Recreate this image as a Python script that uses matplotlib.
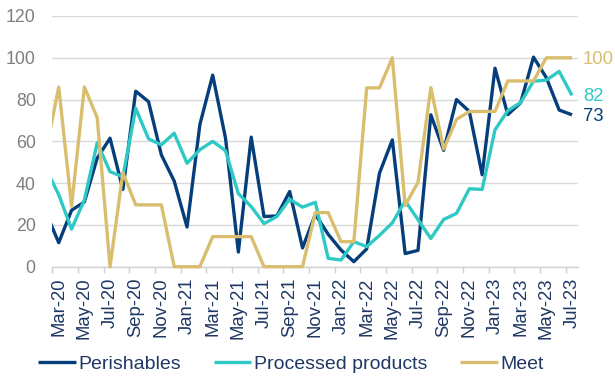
import matplotlib
matplotlib.use("Agg")
import matplotlib.pyplot as plt
from matplotlib.transforms import Bbox, TransformedBbox

plt.rcParams['font.family'] = ['Liberation Sans', 'DejaVu Sans']

# Months: first entry (Feb-20) lies just outside the visible axis and is clipped
months = ['Feb-20', 'Mar-20', 'Apr-20', 'May-20', 'Jun-20', 'Jul-20', 'Aug-20', 'Sep-20', 'Oct-20',
          'Nov-20', 'Dec-20', 'Jan-21', 'Feb-21', 'Mar-21', 'Apr-21', 'May-21', 'Jun-21',
          'Jul-21', 'Aug-21', 'Sep-21', 'Oct-21', 'Nov-21', 'Dec-21', 'Jan-22', 'Feb-22',
          'Mar-22', 'Apr-22', 'May-22', 'Jun-22', 'Jul-22', 'Aug-22', 'Sep-22', 'Oct-22',
          'Nov-22', 'Dec-22', 'Jan-23', 'Feb-23', 'Mar-23', 'Apr-23', 'May-23', 'Jun-23',
          'Jul-23']

perishables = [26, 11.5, 27, 31, 52, 61.5, 37, 84, 79, 53.5, 41, 19, 68, 91.7, 61.5, 7, 62,
               24, 24.3, 36, 9, 25, 15.5, 8, 2.4, 8.5, 44.8, 60.7, 6.3, 7.8, 72.7, 55.7, 80,
               74.3, 44, 95, 72.8, 78.5, 100.3, 90.5, 75, 72.7]
processed = [47, 34.5, 18, 32, 59.3, 45.5, 43, 75.8, 61.2, 58.3, 63.9, 49.5, 56, 60, 55.5, 35,
             28.8, 20.6, 24, 32.3, 28.5, 30.8, 4, 3.2, 12, 9.6, 15, 21, 31.5, 22.5, 13.5, 22.6,
             25.5, 37.3, 37, 65.5, 74.7, 78.6, 88.8, 89.3, 93.5, 82]
meet = [55, 86, 29, 86, 71.3, 0, 45, 29.6, 29.6, 29.6, 0, 0, 0, 14.4, 14.4, 14.4, 14.4, 0, 0, 0,
        0, 25.9, 25.9, 12, 12, 85.6, 85.6, 100, 29.3, 40.5, 85.7, 56.3, 70.5, 74.3, 74.3, 74.3,
        88.9, 88.9, 88.9, 100, 100, 100]

end_labels = ['73', '82', '100']
series_names = ['Perishables', 'Processed products', 'Meet']
colors = ['#063e7b', '#2ec9c5', '#d9be6f']

n_vis = len(months) - 1
x = list(range(-1, n_vis))

fig = plt.figure(figsize=(6.15, 3.78), dpi=100)
ax = fig.add_axes([52.3 / 615, 1 - 266.7 / 378, (578.4 - 52.3) / 615, (266.7 - 16) / 378])

clip = TransformedBbox(Bbox([[-0.5, -10], [n_vis - 0.5, 140]]), ax.transData)
for data, name, c in zip([perishables, processed, meet], series_names, colors):
    ln, = ax.plot(x, data, color=c, lw=2.4, label=name, solid_joinstyle='round',
                  solid_capstyle='butt', zorder=3)
    ln.set_clip_box(clip)

for data, lab, c in zip([perishables, processed, meet], end_labels, colors):
    ax.annotate(lab, xy=(n_vis - 1, data[-1]), xytext=(8, -1), textcoords='offset points',
                ha='left', va='center', color=c, fontsize=13.3, annotation_clip=False)

ax.set_xlim(-0.5, n_vis - 0.5)
ax.set_ylim(0, 120)
ax.set_yticks(range(0, 121, 20))
ax.yaxis.grid(True, color='#d9d9d9', lw=1)
ax.set_axisbelow(True)
for s in ['top', 'right', 'left']:
    ax.spines[s].set_visible(False)
ax.spines['bottom'].set_color('#d0d0d0')
ax.spines['bottom'].set_linewidth(1)
ax.tick_params(axis='y', length=0, pad=12, labelsize=12.8, labelcolor='#7f7f7f')

# major ticks at category boundaries (every 2 months), labels at category centers
ax.set_xticks([i - 0.5 for i in range(0, n_vis, 2)])
ax.set_xticklabels([])
ax.tick_params(axis='x', which='major', length=4.5, color='#d0d0d0', width=1)
ax.set_xticks(list(range(0, n_vis, 2)), minor=True)
ax.set_xticklabels(months[1::2], minor=True, rotation=90)
ax.tick_params(axis='x', which='minor', length=0, pad=8, labelsize=13.3, labelcolor='#1f3864')

fig.legend(loc='center', bbox_to_anchor=(291 / 615, 1 - 364 / 378), ncol=3, frameon=False,
           fontsize=14, handlelength=1.95, handletextpad=0.15, columnspacing=1.65,
           labelcolor='#1f3864')

fig.savefig('out.png', dpi=100)
